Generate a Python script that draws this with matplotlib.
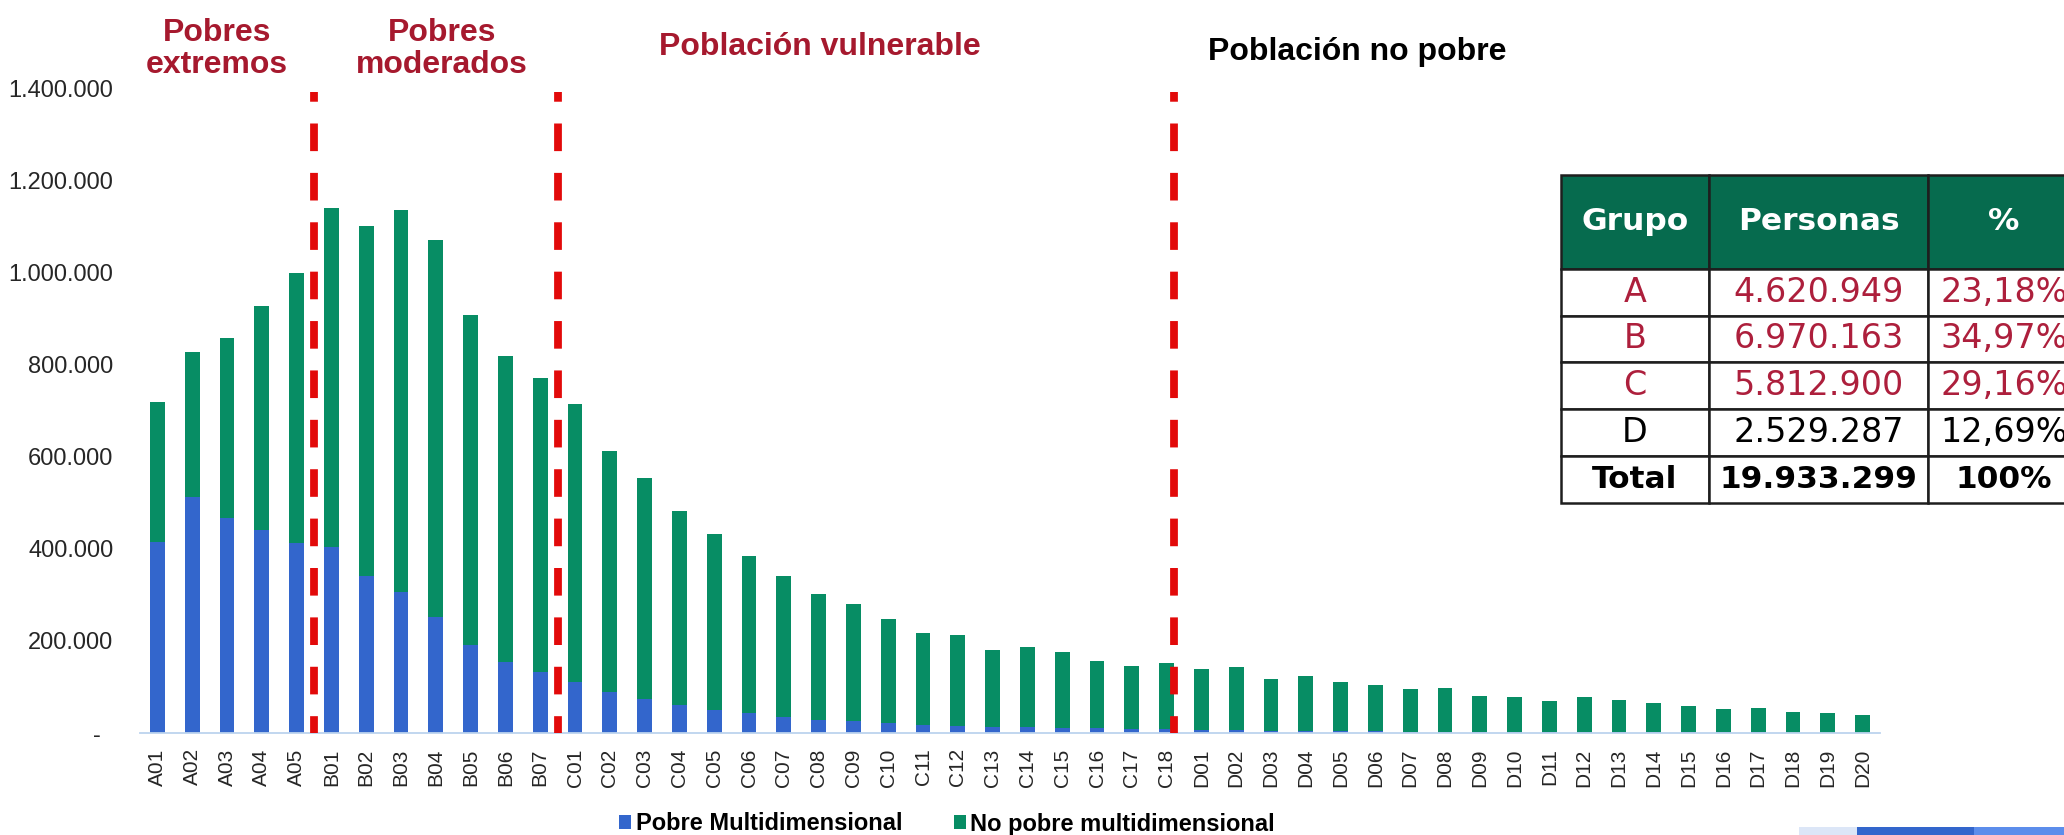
import numpy as np
from matplotlib import pyplot as plt
from matplotlib.patches import Rectangle


W, H = 2064, 835

categories = (
    [f"A{i:02}" for i in range(1, 6)]
    + [f"B{i:02}" for i in range(1, 8)]
    + [f"C{i:02}" for i in range(1, 19)]
    + [f"D{i:02}" for i in range(1, 21)]
)

pobre = [
    415000, 512000, 468000, 440000, 413000,
    405000, 341000, 307000, 251000, 191000, 154000, 132000,
    111000, 88000, 74000, 60000, 51000, 43000, 34000, 28000, 25000, 21000,
    18000, 16000, 13000, 13000, 11000, 10000, 9000, 9000,
    6000, 6000, 5000, 5000, 4000, 4000, 3000, 3000, 3000, 2000,
    2000, 2000, 2000, 2000, 1500, 1500, 1500, 1000, 1000, 1000,
]
no_pobre = [
    305000, 316000, 389000, 487000, 586000,
    735000, 761000, 828000, 819000, 718000, 665000, 639000,
    604000, 525000, 481000, 423000, 382000, 341000, 307000, 274000, 256000, 226000,
    199000, 197000, 168000, 174000, 164000, 146000, 137000, 142000,
    134000, 137000, 113000, 119000, 107000, 101000, 93000, 94000, 78000, 77000,
    68000, 77000, 69000, 64000, 57500, 51500, 52500, 45000, 42000, 39000,
]

# group boundaries (between A05|B01, B07|C01, C18|D01)
cuts = [4.5, 11.5, 29.2]

table_cols = ["Grupo", "Personas", "%"]
table_groups = ["A", "B", "C", "D", "Total"]
table_personas = ["4.620.949", "6.970.163", "5.812.900", "2.529.287", "19.933.299"]
table_pct = ["23,18%", "34,97%", "29,16%", "12,69%", "100%"]

BLUE = "#3366CC"
GREEN = "#078D64"
RED_LINE = "#E20A0A"
DARK_RED = "#A6192E"
TABLE_RED = "#AD1F3C"
TABLE_GREEN = "#066B4E"


def px(x, y):
    # pixel (from top-left) -> figure fraction
    return x / W, 1 - y / H


def thousands(v, _pos=None):
    if v == 0:
        return "-  "
    return f"{v:,.0f}".replace(",", ".")


def main() -> None:
    plt.rcParams["font.family"] = ["Liberation Sans", "DejaVu Sans"]

    fig = plt.figure(figsize=(W / 100, H / 100), dpi=100)
    ax = fig.add_axes([140 / W, (H - 733) / H, 1740 / W, (733 - 88.5) / H])

    x = np.arange(len(categories))
    b1 = ax.bar(x, pobre, width=0.42, color=BLUE, label="Pobre Multidimensional", zorder=2)
    b2 = ax.bar(x, no_pobre, width=0.42, bottom=pobre, color=GREEN, label="No pobre multidimensional", zorder=2)

    for c in cuts:
        ax.plot([c, c], [1392000, 0], color=RED_LINE, lw=5.6, zorder=3,
                linestyle=(2.3, (3.55, 2.8)), dash_capstyle="butt")

    ax.set_xlim(-0.5, len(categories) - 0.5)
    ax.set_ylim(0, 1400000)
    ax.set_yticks(np.arange(0, 1400001, 200000))
    ax.yaxis.set_major_formatter(thousands)
    ax.set_xticks(x)
    ax.set_xticklabels(categories, rotation=90)
    ax.tick_params(axis="y", length=0, pad=19, labelsize=17, labelcolor="#262626")
    ax.tick_params(axis="x", length=0, pad=11, labelsize=15, labelcolor="#262626")
    for s in ["left", "right", "top"]:
        ax.spines[s].set_visible(False)
    ax.spines["bottom"].set_color("#BCD3EE")
    ax.spines["bottom"].set_linewidth(1.3)

    # section headers
    kw = dict(fontsize=23, fontweight="bold", ha="center", va="baseline", linespacing=1.1)
    fig.text(*px(217, 73), "Pobres\nextremos", color=DARK_RED, **kw)
    fig.text(*px(442, 73), "Pobres\nmoderados", color=DARK_RED, **kw)
    fig.text(*px(820, 55), "Población vulnerable", color=DARK_RED, **kw)
    fig.text(*px(1208, 60), "Población no pobre", color="black",
             fontsize=23, fontweight="bold", ha="left", va="baseline")

    # legend
    fig.legend(handles=[b1, b2], loc="center left", bbox_to_anchor=px(619, 824),
               ncol=2, frameon=False, prop={"weight": "bold", "size": 17},
               handlelength=0.5, handleheight=0.5, handletextpad=0.2,
               columnspacing=2.2, borderpad=0, borderaxespad=0)

    # summary table
    tx0, tx1, ty0, ty1 = 1561, 2080, 175, 503
    tax = fig.add_axes([tx0 / W, (H - ty1) / H, (tx1 - tx0) / W, (ty1 - ty0) / H])
    tax.axis("off")
    cell_text = [[g, p, q] for g, p, q in zip(table_groups, table_personas, table_pct)]
    tbl = tax.table(cellText=cell_text, colLabels=table_cols, cellLoc="center",
                    colWidths=[148, 219, 152], bbox=[0, 0, 1, 1])
    tbl.auto_set_font_size(False)
    for (r, c), cell in tbl.get_celld().items():
        cell.set_edgecolor("#1E1E1E")
        cell.set_linewidth(1.8)
        cell.get_text().set_fontfamily("DejaVu Sans")
        if r == 0:
            cell.set_height(2.0)
            cell.set_facecolor(TABLE_GREEN)
            cell.get_text().set_color("white")
            cell.get_text().set_fontweight("bold")
            cell.get_text().set_fontsize(22.5)
        else:
            cell.set_height(1.0)
            txt = cell.get_text()
            if r == len(table_groups):
                txt.set_fontweight("bold")
                txt.set_fontsize(22.5)
                txt.set_color("black")
            else:
                txt.set_fontsize(24)
                txt.set_color(TABLE_RED if r <= 3 else "black")

    # slide footer strip
    for x0, x1, col in [(1799, 1857, "#DCE6F7"), (1857, 1974, "#3366CC"), (1974, 2064, "#5C8DEB")]:
        fig.add_artist(Rectangle(px(x0, 835), (x1 - x0) / W, 8 / H,
                                 transform=fig.transFigure, color=col, lw=0))

    fig.savefig("out.png", dpi=100)


if __name__ == "__main__":
    main()
